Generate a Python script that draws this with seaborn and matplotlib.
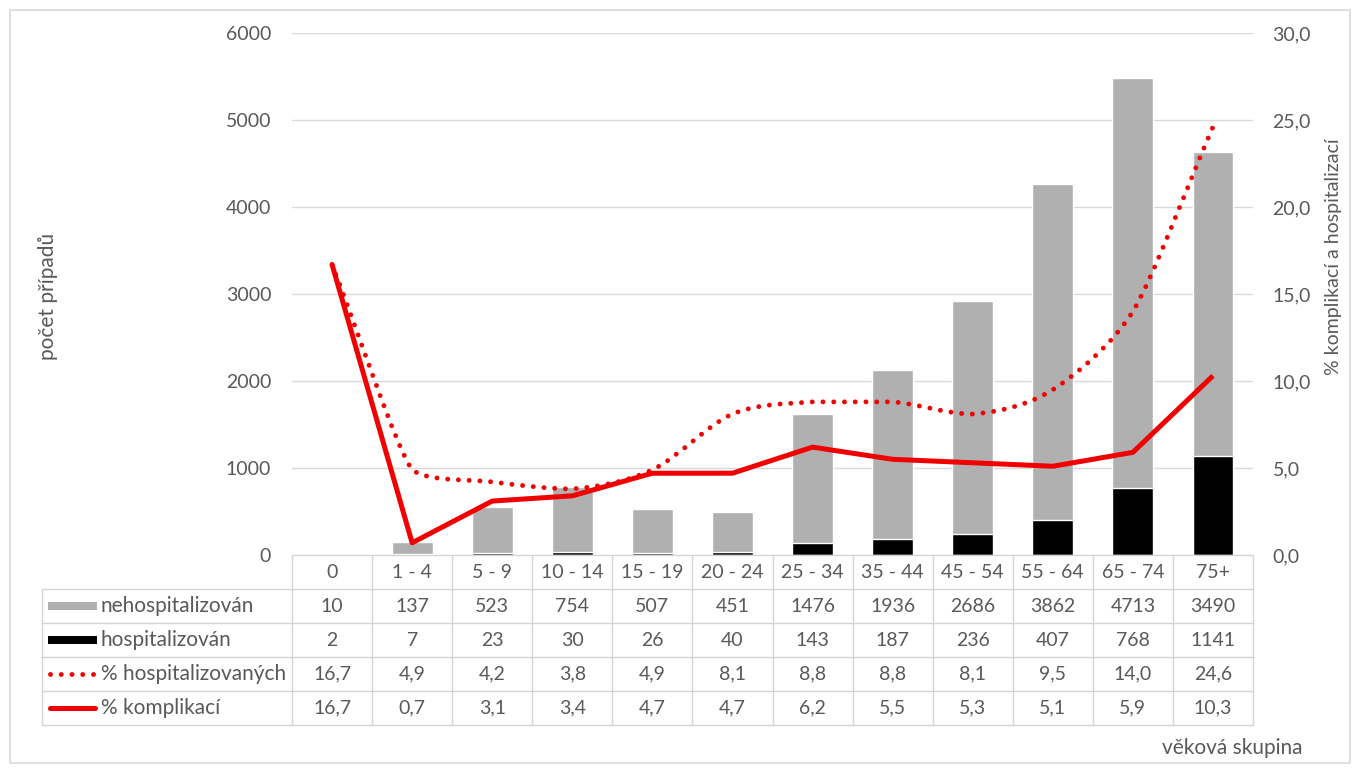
import numpy as np
import pandas as pd
import matplotlib
matplotlib.use("Agg")
import matplotlib.pyplot as plt
import matplotlib.transforms as mtransforms
from matplotlib.path import Path
from matplotlib.patches import PathPatch, Rectangle
from matplotlib.lines import Line2D
import seaborn as sns

# age groups and counts
categories = ["0", "1 - 4", "5 - 9", "10 - 14", "15 - 19", "20 - 24", "25 - 34",
              "35 - 44", "45 - 54", "55 - 64", "65 - 74", "75+"]
non_hospitalized = [10, 137, 523, 754, 507, 451, 1476, 1936, 2686, 3862, 4713, 3490]
hospitalized = [2, 7, 23, 30, 26, 40, 143, 187, 236, 407, 768, 1141]
pct_hospitalized = [16.7, 4.9, 4.2, 3.8, 4.9, 8.1, 8.8, 8.8, 8.1, 9.5, 14.0, 24.6]
pct_complications = [16.7, 0.7, 3.1, 3.4, 4.7, 4.7, 6.2, 5.5, 5.3, 5.1, 5.9, 10.3]

left_ticks = [0, 1000, 2000, 3000, 4000, 5000, 6000]
right_ticks = [0, 5, 10, 15, 20, 25, 30]

row_labels = ["nehospitalizován", "hospitalizován", "% hospitalizovaných", "% komplikací"]

GRAY = "#b0b0b1"
RED = "#f00000"
TXT = "#595959"
GRID = "#d9d9d9"
TABLE = "#d4d4d4"

sns.set_theme(style="white")
plt.rcParams["font.family"] = ["Lato", "DejaVu Sans"]
FS = 14
FS_LABEL = 15

W, H = 1360, 772
fig = plt.figure(figsize=(W / 100, H / 100), dpi=100)


def fx(x):
    return x / W


def fy(y):
    return 1 - y / H


X0, X1, Y0, Y1 = 292, 1253, 555, 33
ax = fig.add_axes([fx(X0), fy(Y0), fx(X1) - fx(X0), fy(Y1) - fy(Y0)])

df = pd.DataFrame({
    "skupina": categories,
    "neh": non_hospitalized,
    "hosp": hospitalized,
    "pct_h": pct_hospitalized,
    "pct_k": pct_complications,
})
df["celkem"] = df["neh"] + df["hosp"]
df["pos"] = np.arange(len(categories))

# stacked bars: total in gray, hospitalized part in black on the bottom
sns.barplot(data=df, x="skupina", y="celkem", color=GRAY, width=0.51,
            saturation=1, ax=ax, zorder=2)
sns.barplot(data=df, x="skupina", y="hosp", color="black", width=0.51,
            saturation=1, ax=ax, zorder=3)

ax.set_xlim(-0.5, len(categories) - 0.5)
ax.set_ylim(0, 6000)
ax.set_yticks(left_ticks)
ax.set_yticklabels([str(t) for t in left_ticks], color=TXT, fontsize=FS)
ax.set_xticks([])
ax.set_xlabel("")
ax.set_ylabel("")
ax.tick_params(axis="y", length=0, pad=15)
for t in left_ticks[1:]:
    ax.axhline(t, color=GRID, lw=1.0, zorder=0)
for s in ax.spines.values():
    s.set_visible(False)

ax2 = ax.twinx()
ax2.set_xlim(-0.5, len(categories) - 0.5)
ax2.set_ylim(0, 30)


def smooth_path(a, xs, ys):
    """Smoothed curve through the points (cubic Beziers, no overshoot)."""
    pts = a.transData.transform(np.column_stack([xs, ys]))
    n = len(pts)
    handles = []
    for i in range(n):
        if i == 0 or i == n - 1:
            handles.append(None)
            continue
        t = pts[i + 1] - pts[i - 1]
        tn = np.hypot(*t)
        d_in = np.hypot(*(pts[i] - pts[i - 1]))
        d_out = np.hypot(*(pts[i + 1] - pts[i]))
        length = min(tn / 6, min(d_in, d_out) / 3)
        handles.append(t / tn * length)
    verts = [pts[0]]
    codes = [Path.MOVETO]
    for i in range(n - 1):
        p1, p2 = pts[i], pts[i + 1]
        c1 = p1 + (handles[i] if handles[i] is not None else (p2 - p1) / 3)
        c2 = p2 - (handles[i + 1] if handles[i + 1] is not None else (p2 - p1) / 3)
        lo, hi = min(p1[1], p2[1]), max(p1[1], p2[1])
        c1[1] = np.clip(c1[1], lo, hi)
        c2[1] = np.clip(c2[1], lo, hi)
        verts += [c1, c2, p2]
        codes += [Path.CURVE4] * 3
    verts = a.transData.inverted().transform(np.array(verts))
    return Path(verts, codes)


DOT = (0, (0.01, 2.2))
dotted = PathPatch(smooth_path(ax2, df["pos"], df["pct_h"]), fill=False,
                   edgecolor=RED, lw=3.5, linestyle=DOT, zorder=4)
dotted.set_capstyle("round")
ax2.add_patch(dotted)
sns.lineplot(data=df, x="pos", y="pct_k", color=RED, lw=3.6, sort=False,
             ax=ax2, zorder=5, solid_joinstyle="round", solid_capstyle="butt")

ax2.set_xlim(-0.5, len(categories) - 0.5)
ax2.set_ylim(0, 30)
ax2.set_yticks(right_ticks)
ax2.set_yticklabels([f"{t:.1f}".replace(".", ",") for t in right_ticks],
                    color=TXT, fontsize=FS)
ax2.tick_params(axis="y", length=0, pad=14)
ax2.set_xlabel("")
ax2.set_ylabel("")
for s in ax2.spines.values():
    s.set_visible(False)
ax2.grid(False)

# data table below the plot
tr = mtransforms.blended_transform_factory(ax.transData, fig.transFigure)
row_h = 34
top = Y0
nrows = 5
bottom = top + row_h * nrows
LX = 42


def hline(xa, xb, y):
    fig.add_artist(Line2D([fx(xa), fx(xb)], [fy(y), fy(y)], color=TABLE,
                          lw=1.0, transform=fig.transFigure))


def vline(x, ya, yb):
    fig.add_artist(Line2D([fx(x), fx(x)], [fy(ya), fy(yb)], color=TABLE,
                          lw=1.0, transform=fig.transFigure))


hline(X0, X1, top)
for r in range(1, nrows + 1):
    hline(LX, X1, top + r * row_h)
vline(LX, top + row_h, bottom)
for k in range(len(categories) + 1):
    xk = ax.transData.transform((k - 0.5, 0))[0]
    vline(xk, top, bottom)

for i, c in enumerate(categories):
    fig.text(i, fy(top + row_h / 2), c, transform=tr, ha="center",
             va="center", color=TXT, fontsize=FS)
rows = [
    non_hospitalized,
    hospitalized,
    [f"{v:.1f}".replace(".", ",") for v in pct_hospitalized],
    [f"{v:.1f}".replace(".", ",") for v in pct_complications],
]
for r, vals in enumerate(rows):
    yc = fy(top + row_h * (r + 1.5))
    for i, v in enumerate(vals):
        fig.text(i, yc, str(v), transform=tr, ha="center", va="center",
                 color=TXT, fontsize=FS)
    fig.text(fx(101), yc, row_labels[r], ha="left", va="center",
             color=TXT, fontsize=FS_LABEL)

# legend keys in the row headers
kx0, kx1 = 48, 97
y_neh = top + row_h * 1.5
y_hosp = top + row_h * 2.5
fig.add_artist(Rectangle((fx(kx0), fy(y_neh + 4)), fx(kx1) - fx(kx0), 8 / H,
                         transform=fig.transFigure, color=GRAY, lw=0))
fig.add_artist(Rectangle((fx(kx0), fy(y_hosp + 4)), fx(kx1) - fx(kx0), 8 / H,
                         transform=fig.transFigure, color="black", lw=0))
y_d = fy(top + row_h * 3.5)
fig.add_artist(Line2D([fx(kx0 + 2), fx(kx1)], [y_d, y_d], color=RED, lw=3.5,
                      linestyle=DOT, dash_capstyle="round",
                      transform=fig.transFigure))
y_s = fy(top + row_h * 4.5)
fig.add_artist(Line2D([fx(kx0 + 2), fx(kx1 - 2)], [y_s, y_s], color=RED, lw=3.6,
                      solid_capstyle="round", transform=fig.transFigure))

# axis titles
fig.text(fx(48), fy(296), "počet případů", rotation=90, ha="center",
         va="center", color=TXT, fontsize=FS_LABEL)
fig.text(fx(1333), fy(257), "% komplikací a hospitalizací", rotation=90,
         ha="center", va="center", color=TXT, fontsize=FS)
fig.text(fx(1232), fy(748), "věková skupina", ha="center", va="center",
         color=TXT, fontsize=FS_LABEL)

# chart frame
fig.add_artist(Rectangle((fx(10), fy(763)), fx(1350) - fx(10), fy(10) - fy(763),
                         transform=fig.transFigure, fill=False,
                         edgecolor=GRID, lw=1.2))

fig.savefig("out.png", dpi=100, facecolor="white")
